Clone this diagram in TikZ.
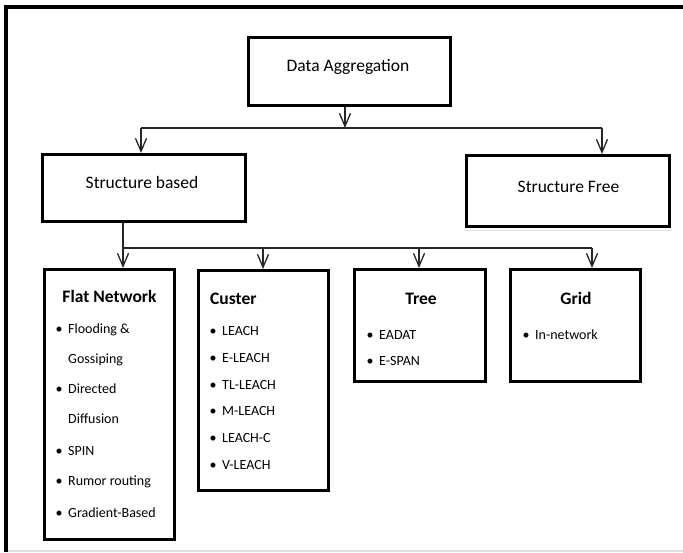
\documentclass[tikz,border=0pt]{standalone}
\usepackage{fontspec}
\setmainfont{Carlito}
\usetikzlibrary{arrows.meta}
\newcommand\itm[1]{\makebox[0pt][r]{\textbullet\hspace{5.5pt}}#1}
\begin{document}
\begin{tikzpicture}[x=1pt,y=-1pt,
  box/.style={draw=black,line width=3pt,inner sep=0pt,fill=white},
  lbl/.style={inner sep=0pt,anchor=base,font=\fontsize{17.5}{20}\selectfont},
  ttl/.style={inner sep=0pt,anchor=base,font=\fontsize{17.5}{20}\selectfont\bfseries},
  itemtxt/.style={inner sep=0pt,anchor=base west,font=\fontsize{14}{16}\selectfont},
  conn/.style={line width=1.3pt,draw=black!85},
  arr/.style={conn,-{Straight Barb[length=13pt,width=11pt,line width=1.3pt]}}]
\useasboundingbox (0,0) rectangle (683,553);
% frame
\draw[gray!25,line width=1.5pt] (6,551) -- (683,551);
\draw[black,line width=3.5pt] (6,552) -- (6,7) -- (683,7);
% boxes
\node[box,minimum width=202pt,minimum height=68pt] (da) at (349.5,71.5) {};
\node[box,minimum width=203pt,minimum height=67pt] (sb) at (144,188) {};
\node[box,minimum width=203pt,minimum height=71pt] (sf) at (568,191) {};
\draw[gray!25,line width=1.5pt] ([yshift=-2.5pt]sf.south west) -- ([yshift=-2.5pt]sf.south east);
\node[box,minimum width=130pt,minimum height=270pt] (flat) at (109.5,404.5) {};
\node[box,minimum width=130pt,minimum height=220pt] (clu) at (263.5,380.5) {};
\node[box,minimum width=131pt,minimum height=112pt] (tree) at (420,325.5) {};
\node[box,minimum width=130pt,minimum height=112pt] (grid) at (575.5,325.5) {};
% labels
\node[lbl] (tda) at (348,72) {Data Aggregation};
\node[lbl] (tsb) at (142,189) {Structure based};
\node[lbl] (tsf) at (568.5,193) {Structure Free};
\node[ttl] (tflat) at (109.5,303) {Flat Network};
\node[ttl,anchor=base west] (tclu) at (210,305) {Custer};
\node[ttl] (ttree) at (421,305) {Tree};
\node[ttl] (tgrid) at (576,305) {Grid};
% flat items
\node[itemtxt] (f1) at (68,334) {\itm{Flooding \&}};
\node[itemtxt] (f2) at (68,363.5) {Gossiping};
\node[itemtxt] (f3) at (68,393) {\itm{Directed}};
\node[itemtxt] (f4) at (68,423) {Diffusion};
\node[itemtxt] (f5) at (68,455) {\itm{SPIN}};
\node[itemtxt] (f6) at (68,485.5) {\itm{Rumor routing}};
\node[itemtxt] (f7) at (68,517) {\itm{Gradient-Based}};
% cluster items
\node[itemtxt] (c1) at (222,336) {\itm{LEACH}};
\node[itemtxt] (c2) at (222,362.6) {\itm{E-LEACH}};
\node[itemtxt] (c3) at (222,389.2) {\itm{TL-LEACH}};
\node[itemtxt] (c4) at (222,415.8) {\itm{M-LEACH}};
\node[itemtxt] (c5) at (222,442.4) {\itm{LEACH-C}};
\node[itemtxt] (c6) at (222,469) {\itm{V-LEACH}};
% tree items
\node[itemtxt] (t1) at (379,340) {\itm{EADAT}};
\node[itemtxt] (t2) at (379,366) {\itm{E-SPAN}};
% grid items
\node[itemtxt] (g1) at (535,340) {\itm{In-network}};
% connectors
\coordinate (b0) at (345,128);
\coordinate (bl) at (141,128);
\coordinate (br) at (602,128);
\draw[arr] (da.south -| b0) -- (b0);
\draw[conn] (bl) -- (br);
\draw[arr] (bl) -- (sb.north -| bl);
\draw[arr] (br) -- (sf.north -| br);
\coordinate (k0) at (123,248);
\coordinate (k1) at (263,248);
\coordinate (k2) at (419,248);
\coordinate (k3) at (592,248);
\draw[conn] (sb.south -| k0) -- (k0) -- (k3);
\draw[arr] (k0) -- (flat.north -| k0);
\draw[arr] (k1) -- (clu.north -| k1);
\draw[arr] (k2) -- (tree.north -| k2);
\draw[arr] (k3) -- (grid.north -| k3);
\end{tikzpicture}
\end{document}
